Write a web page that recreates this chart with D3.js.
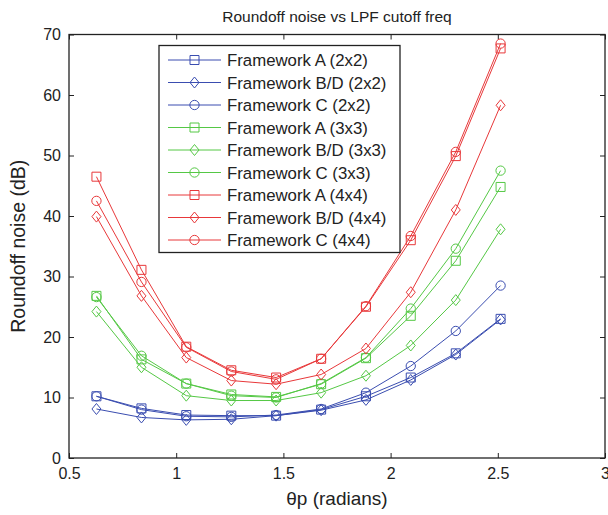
<!DOCTYPE html>
<html>
<head>
<meta charset="utf-8">
<script src="https://cdn.jsdelivr.net/npm/d3@7"></script>
<style>
  body { margin: 0; background: #fff; }
  text { font-family: "Liberation Sans", Arial, sans-serif; fill: #222; }
</style>
</head>
<body>
<div id="chart"></div>
<script>
// theta_p sample points (radians)
var thetaP = [0.628, 0.838, 1.047, 1.257, 1.466, 1.676, 1.885, 2.094, 2.304, 2.513];

// roundoff noise (dB)
var aTwo   = [10.2, 8.2, 7.1, 7.0, 7.0, 8.0, 10.2, 13.3, 17.3, 23.0];
var bdTwo  = [8.1, 6.7, 6.3, 6.4, 7.0, 7.9, 9.6, 12.9, 17.1, 22.9];
var cTwo   = [10.2, 8.0, 6.9, 6.8, 7.1, 8.1, 10.8, 15.2, 21.0, 28.5];
var aThree = [26.8, 16.3, 12.3, 10.5, 10.1, 12.2, 16.5, 23.5, 32.6, 44.8];
var bdThree= [24.2, 15.0, 10.3, 9.5, 9.5, 10.8, 13.6, 18.6, 26.1, 37.8];
var cThree = [26.6, 16.9, 12.3, 10.3, 10.0, 12.3, 16.6, 24.7, 34.6, 47.5];
var aFour  = [46.5, 31.1, 18.4, 14.5, 13.3, 16.4, 25.0, 36.0, 49.9, 67.7];
var bdFour = [39.9, 26.8, 16.6, 12.8, 12.2, 13.8, 18.1, 27.4, 41.0, 58.3];
var cFour  = [42.5, 29.1, 18.3, 14.3, 13.0, 16.4, 25.1, 36.7, 50.6, 68.5];

var seriesNames = ["Framework A (2x2)", "Framework B/D (2x2)", "Framework C (2x2)",
                   "Framework A (3x3)", "Framework B/D (3x3)", "Framework C (3x3)",
                   "Framework A (4x4)", "Framework B/D (4x4)", "Framework C (4x4)"];
var seriesValues = [aTwo, bdTwo, cTwo, aThree, bdThree, cThree, aFour, bdFour, cFour];
var seriesMarkers = ["square", "diamond", "circle", "square", "diamond", "circle", "square", "diamond", "circle"];
var seriesColors = ["#3a4db0", "#3a4db0", "#3a4db0",
                    "#55c845", "#55c845", "#55c845",
                    "#e8383a", "#e8383a", "#e8383a"];

var xTicks = [0.5, 1, 1.5, 2, 2.5, 3];
var yTicks = [0, 10, 20, 30, 40, 50, 60, 70];

var W = 608, H = 515;
var margin = {top: 34.5, right: 3, bottom: 57, left: 69};
var width = W - margin.left - margin.right;
var height = H - margin.top - margin.bottom;

var svg = d3.select("#chart").append("svg")
    .attr("width", W)
    .attr("height", H);

var g = svg.append("g")
    .attr("transform", "translate(" + margin.left + "," + margin.top + ")");

var x = d3.scaleLinear().domain([0.5, 3]).range([0, width]);
var y = d3.scaleLinear().domain([0, 70]).range([height, 0]);

// axes, ticks pointing inward like matlab
function styleAxis(sel) {
    sel.select(".domain").remove();
    sel.selectAll(".tick line").attr("stroke", "#222");
    sel.selectAll(".tick text").style("font-size", "16px").attr("fill", "#222");
}

g.append("g")
    .attr("transform", "translate(0," + height + ")")
    .call(d3.axisBottom(x).tickValues(xTicks).tickFormat(d3.format("")).tickSizeInner(-5).tickPadding(10))
    .call(styleAxis);

g.append("g")
    .call(d3.axisTop(x).tickValues(xTicks).tickSizeInner(-5).tickFormat(""))
    .call(styleAxis);

g.append("g")
    .call(d3.axisLeft(y).tickValues(yTicks).tickSizeInner(-5).tickPadding(8))
    .call(styleAxis);

g.append("g")
    .attr("transform", "translate(" + width + ",0)")
    .call(d3.axisRight(y).tickValues(yTicks).tickSizeInner(-5).tickFormat(""))
    .call(styleAxis);

g.append("rect")
    .attr("width", width)
    .attr("height", height)
    .attr("fill", "none")
    .attr("stroke", "#222")
    .attr("stroke-width", 1.3);

function markerPath(type) {
    if (type === "square") return d3.symbol().type(d3.symbolSquare).size(81)();
    if (type === "circle") return d3.symbol().type(d3.symbolCircle).size(68)();
    return "M0,-5.5L4.5,0L0,5.5L-4.5,0Z";
}

var line = d3.line()
    .x(function(d) { return x(d[0]); })
    .y(function(d) { return y(d[1]); });

seriesValues.forEach(function(vals, i) {
    var pts = vals.map(function(v, j) { return [thetaP[j], v]; });
    var s = g.append("g").attr("class", "series");
    s.append("path")
        .datum(pts)
        .attr("d", line)
        .attr("fill", "none")
        .attr("stroke", seriesColors[i])
        .attr("stroke-width", 1);
    s.selectAll("path.mk")
        .data(pts)
        .enter().append("path")
        .attr("class", "mk")
        .attr("d", markerPath(seriesMarkers[i]))
        .attr("transform", function(d) { return "translate(" + x(d[0]) + "," + y(d[1]) + ")"; })
        .attr("fill", "none")
        .attr("stroke", seriesColors[i])
        .attr("stroke-width", 1);
});

// legend
var leg = svg.append("g").attr("transform", "translate(159,45.5)");
leg.append("rect")
    .attr("width", 241)
    .attr("height", 207)
    .attr("fill", "#fff")
    .attr("stroke", "#222")
    .attr("stroke-width", 1.3);

seriesNames.forEach(function(name, i) {
    var row = leg.append("g").attr("transform", "translate(0," + (14.5 + i * 22.5) + ")");
    row.append("line")
        .attr("x1", 9).attr("x2", 62)
        .attr("stroke", seriesColors[i]).attr("stroke-width", 1);
    row.append("path")
        .attr("d", markerPath(seriesMarkers[i]))
        .attr("transform", "translate(35.5,0)")
        .attr("fill", "none")
        .attr("stroke", seriesColors[i]);
    row.append("text")
        .attr("x", 68)
        .attr("dy", "0.36em")
        .style("font-size", "16.8px")
        .text(name);
});

// titles
svg.append("text")
    .attr("x", margin.left + width / 2)
    .attr("y", 22)
    .attr("text-anchor", "middle")
    .style("font-size", "15.5px")
    .text("Roundoff noise vs LPF cutoff freq");

svg.append("text")
    .attr("x", margin.left + width / 2)
    .attr("y", 505)
    .attr("text-anchor", "middle")
    .style("font-size", "19px")
    .text("θp (radians)");

svg.append("text")
    .attr("transform", "translate(25," + (margin.top + height / 2) + ") rotate(-90)")
    .attr("text-anchor", "middle")
    .style("font-size", "19.5px")
    .text("Roundoff noise (dB)");
</script>
</body>
</html>
